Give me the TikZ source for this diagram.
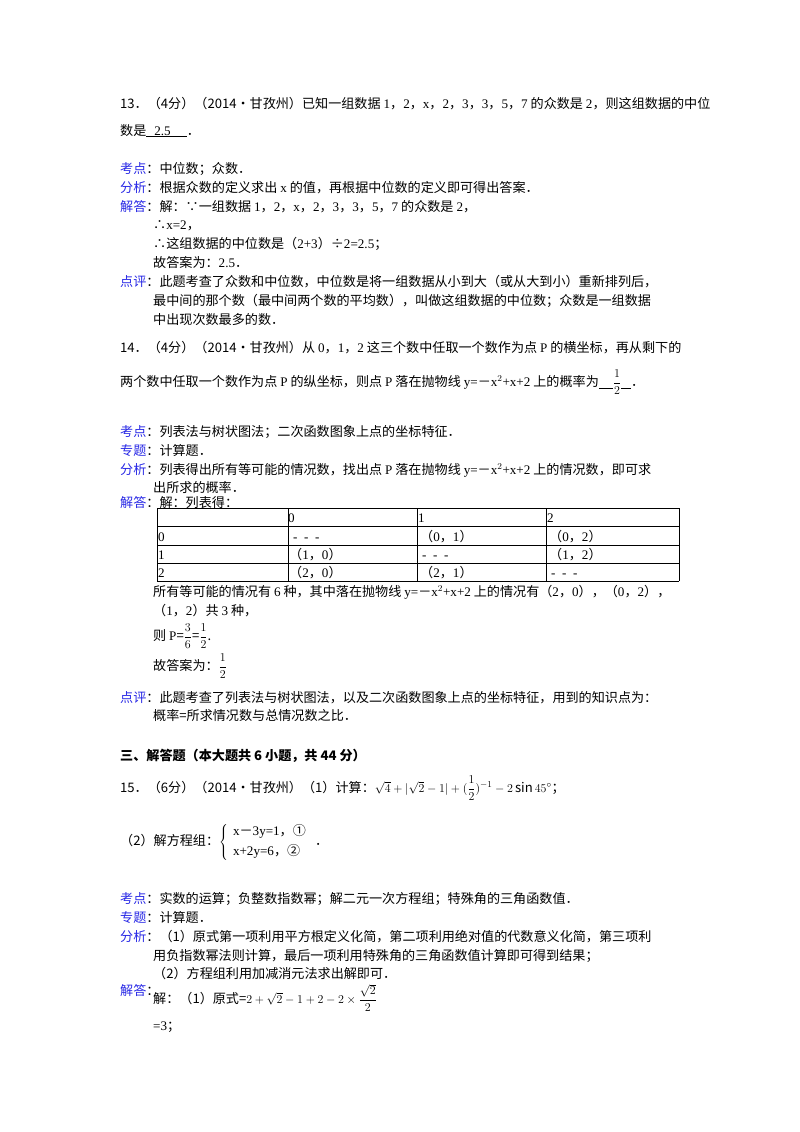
\documentclass[tikz,border=0pt]{standalone}
\usepackage{fontspec}
\setmainfont{Noto Sans CJK SC}
\newfontfamily\ser{Liberation Serif}
\definecolor{lab}{RGB}{40,40,230}
\newcommand{\lb}[1]{\textcolor{lab}{#1}：}
\newcommand{\dfr}[2]{{\displaystyle\frac{#1}{#2}}}
\begin{document}
\begin{tikzpicture}[x=1pt,y=-1pt,t/.style={anchor=base west,inner sep=0pt,font=\fontsize{13.1}{15}\selectfont}]
\useasboundingbox[fill=white] (0,0) rectangle (800,1132);
\node[t] (a1) at (120,108) {13．（4分）（2014•甘孜州）已知一组数据 {\ser 1}，{\ser 2}，{\ser x}，{\ser 2}，{\ser 3}，{\ser 3}，{\ser 5}，{\ser 7} 的众数是 {\ser 2}，则这组数据的中位};
\node[t] (a2) at (120,135) {数是\underline{\hspace{8pt}{\ser 2.5}\hspace{16pt}}．};
\node[t] (a3) at (120,173) {\lb{考点}中位数；众数．};
\node[t] (a4) at (120,192) {\lb{分析}根据众数的定义求出 {\ser x} 的值，再根据中位数的定义即可得出答案．};
\node[t] (a5) at (120,211) {\lb{解答}解：∵一组数据 {\ser 1}，{\ser 2}，{\ser x}，{\ser 2}，{\ser 3}，{\ser 3}，{\ser 5}，{\ser 7} 的众数是 {\ser 2}，};
\node[t] (a6) at (153,229) {∴{\ser x=2}，};
\node[t] (a7) at (153,248) {∴这组数据的中位数是（{\ser 2+3}）÷{\ser 2=2.5}；};
\node[t] (a8) at (153,267) {故答案为：{\ser 2.5}．};
\node[t] (a9) at (120,286) {\lb{点评}此题考查了众数和中位数，中位数是将一组数据从小到大（或从大到小）重新排列后，};
\node[t] (a10) at (153,305) {最中间的那个数（最中间两个数的平均数），叫做这组数据的中位数；众数是一组数据};
\node[t] (a11) at (153,324) {中出现次数最多的数．};
\node[t] (b1) at (120,352) {14．（4分）（2014•甘孜州）从 {\ser 0}，{\ser 1}，{\ser 2} 这三个数中任取一个数作为点 {\ser P} 的横坐标，再从剩下的};
\node[t] (b2) at (120,386) {两个数中任取一个数作为点 {\ser P} 的纵坐标，则点 {\ser P} 落在抛物线 {\ser y=}－{\ser x$^2$+x+2} 上的概率为\rule[-2pt]{14pt}{0.5pt}$\dfr{1}{2}$\rule[-2pt]{10pt}{0.5pt}．};
\node[t] (b3) at (120,436) {\lb{考点}列表法与树状图法；二次函数图象上点的坐标特征．};
\node[t] (b4) at (120,455) {\lb{专题}计算题．};
\node[t] (b5) at (120,474) {\lb{分析}列表得出所有等可能的情况数，找出点 {\ser P} 落在抛物线 {\ser y=}－{\ser x$^2$+x+2} 上的情况数，即可求};
\node[t] (b6) at (153,492) {出所求的概率．};
\node[t] (b7) at (120,507) {\lb{解答}解：列表得：};
\draw[line width=1pt] (157,508) -- (679,508);
\foreach \yy in {526,545,563,581} \draw[line width=0.7pt] (157,\yy) -- (679,\yy);
\foreach \xx in {157,288,417,546,679} \draw[line width=0.7pt] (\xx,508) -- (\xx,581);
\node[t] at (288,522) {\ser 0};
\node[t] at (418,522) {\ser 1};
\node[t] at (547,522) {\ser 2};
\node[t] at (158,541) {\ser 0};
\node[t] at (158,559) {\ser 1};
\node[t] at (158,577) {\ser 2};
\node[t] at (293,541) {{\ser -\ \ -\ \ -}};
\node[t] at (420,541) {（{\ser 0}，{\ser 1}）};
\node[t] at (549,541) {（{\ser 0}，{\ser 2}）};
\node[t] at (289,559) {（{\ser 1}，{\ser 0}）};
\node[t] at (422,559) {{\ser -\ \ -\ \ -}};
\node[t] at (549,559) {（{\ser 1}，{\ser 2}）};
\node[t] at (289,577) {（{\ser 2}，{\ser 0}）};
\node[t] at (420,577) {（{\ser 2}，{\ser 1}）};
\node[t] at (551,577) {{\ser -\ \ -\ \ -}};
\node[t] (c1) at (153,596) {所有等可能的情况有 {\ser 6} 种，其中落在抛物线 {\ser y=}－{\ser x$^2$+x+2} 上的情况有（{\ser 2}，{\ser 0}），（{\ser 0}，{\ser 2}），};
\node[t] (c2) at (153,615) {（{\ser 1}，{\ser 2}）共 {\ser 3} 种，};
\node[t] (c3) at (153,640) {则 {\ser P}=$\dfr{3}{6}$=$\dfr{1}{2}$.};
\node[t] (c4) at (153,670) {故答案为：$\dfr{1}{2}$};
\node[t] (c5) at (120,702) {\lb{点评}此题考查了列表法与树状图法，以及二次函数图象上点的坐标特征，用到的知识点为：};
\node[t] (c6) at (153,720) {概率=所求情况数与总情况数之比．};
\node[t] (d1) at (120,760) {\bfseries 三、解答题（本大题共 6 小题，共 44 分）};
\node[t] (d2) at (120,792) {15．（6分）（2014•甘孜州）（1）计算：$\sqrt{4}+|\sqrt{2}-1|+(\dfr{1}{2})^{-1}-2\sin 45^\circ$；};
\node[t] (d3) at (120,845) {（2）解方程组：$\left\{\begin{array}{l}\mbox{{\ser x}－{\ser 3y=1}，①}\\[4pt]\mbox{{\ser x+2y=6}，②}\end{array}\right.$ ．};
\node[t] (e1) at (120,903) {\lb{考点}实数的运算；负整数指数幂；解二元一次方程组；特殊角的三角函数值．};
\node[t] (e2) at (120,922) {\lb{专题}计算题．};
\node[t] (e3) at (120,941) {\lb{分析}（1）原式第一项利用平方根定义化简，第二项利用绝对值的代数意义化简，第三项利};
\node[t] (e4) at (153,960) {用负指数幂法则计算，最后一项利用特殊角的三角函数值计算即可得到结果；};
\node[t] (e5) at (153,978) {（2）方程组利用加减消元法求出解即可．};
\node[t] (e6) at (120,995) {\textcolor{lab}{解答}：};
\node[t] (e7) at (153,1003) {解：（1）原式=$2+\sqrt{2}-1+2-2\times\dfr{\sqrt{2}}{2}$};
\node[t] (e8) at (153,1030) {{\ser =3}；};
\end{tikzpicture}
\end{document}
